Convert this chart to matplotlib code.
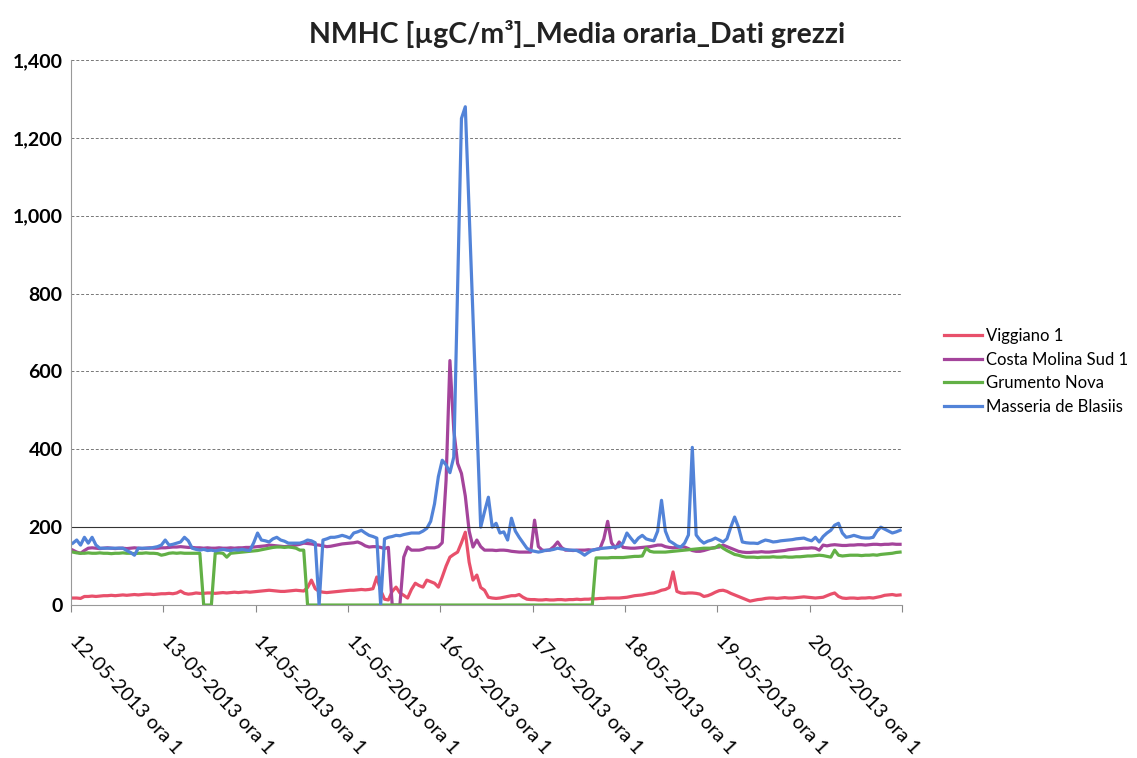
import numpy as np
import matplotlib.pyplot as plt

# hourly means, 12-05-2013 ora 1 .. 20-05-2013 ora 24
day_labels = ["12-05-2013 ora 1", "13-05-2013 ora 1", "14-05-2013 ora 1",
              "15-05-2013 ora 1", "16-05-2013 ora 1", "17-05-2013 ora 1",
              "18-05-2013 ora 1", "19-05-2013 ora 1", "20-05-2013 ora 1"]

viggiano = [
    18, 18, 17, 22, 22, 23, 22, 23, 24, 24, 25, 24, 25, 26, 25, 26, 27, 26, 27, 28, 28, 27, 28, 29,
    29, 30, 29, 31, 36, 30, 28, 29, 31, 30, 30, 31, 31, 30, 31, 32, 31, 32, 33, 32, 33, 34, 33, 34,
    35, 36, 37, 38, 37, 36, 35, 35, 36, 37, 38, 37, 36, 45, 64, 42, 35, 33, 32, 33, 34, 35, 36, 37,
    38, 38, 39, 40, 39, 40, 42, 72, 38, 15, 13, 35, 46, 31, 25, 18, 40, 56, 50, 46, 64, 60, 56, 46,
    72, 100, 123, 130, 136, 160, 187, 110, 64, 77, 45, 38, 20, 18, 17, 18, 20, 22, 24, 24, 27, 20, 15, 14,
    14, 13, 13, 14, 13, 13, 14, 14, 13, 14, 14, 15, 14, 15, 15, 16, 16, 17, 17, 18, 18, 18, 18, 19,
    20, 22, 24, 25, 26, 28, 30, 31, 34, 38, 40, 45, 85, 35, 31, 30, 31, 31, 30, 28, 22, 24, 28, 33,
    37, 38, 35, 30, 26, 22, 18, 14, 10, 12, 14, 15, 17, 18, 18, 17, 18, 19, 18, 18, 19, 20, 21, 20,
    19, 18, 19, 20, 24, 28, 31, 22, 18, 17, 18, 18, 17, 18, 18, 19, 18, 20, 22, 25, 26, 27, 25, 26,
]

costa_molina = [
    141, 136, 133, 140, 146, 147, 146, 145, 146, 147, 146, 145, 146, 146, 145, 146, 147, 146, 145, 146, 147, 146, 146, 147,
    147, 148, 149, 149, 150, 149, 148, 148, 147, 147, 146, 147, 146, 146, 147, 146, 146, 147, 146, 147, 147, 148, 148, 149,
    150, 151, 152, 154, 153, 152, 151, 150, 151, 152, 154, 156, 159, 158, 157, 155, 154, 152, 150, 151, 153, 155, 157, 158,
    159, 160, 162, 158, 152, 149, 150, 150, 148, 145, 148, 0, 0, 0, 123, 149, 141, 141, 141, 143, 147, 147, 147, 150,
    160, 320, 628, 450, 364, 338, 280, 190, 149, 167, 150, 141, 141, 141, 140, 141, 141, 140, 138, 137, 136, 136, 136, 136,
    218, 150, 141, 140, 142, 150, 162, 148, 141, 141, 140, 141, 141, 141, 142, 141, 143, 145, 170, 215, 160, 146, 162, 148,
    147, 146, 146, 147, 148, 149, 150, 152, 154, 154, 150, 148, 147, 148, 149, 149, 145, 140, 138, 138, 140, 143, 146, 148,
    149, 154, 150, 146, 142, 138, 136, 135, 135, 136, 136, 137, 136, 136, 137, 138, 139, 140, 142, 143, 144, 145, 146, 146,
    147, 146, 141, 154, 152, 154, 155, 154, 153, 153, 154, 154, 155, 155, 154, 155, 156, 156, 155, 156, 156, 157, 156, 156,
]

grumento = [
    136, 134, 133, 133, 134, 133, 133, 134, 133, 133, 132, 133, 133, 134, 133, 133, 132, 133, 133, 134, 133, 133, 132, 128,
    130, 133, 134, 133, 134, 133, 133, 133, 133, 133, 0, 0, 0, 133, 134, 133, 123, 133, 134, 135, 136, 137, 138, 139,
    140, 142, 144, 146, 148, 149, 149, 148, 149, 148, 146, 141, 141, 0, 0, 0, 0, 0, 0, 0, 0, 0, 0, 0,
    0, 0, 0, 0, 0, 0, 0, 0, 0, 0, 0, 0, 0, 0, 0, 0, 0, 0, 0, 0, 0, 0, 0, 0,
    0, 0, 0, 0, 0, 0, 0, 0, 0, 0, 0, 0, 0, 0, 0, 0, 0, 0, 0, 0, 0, 0, 0, 0,
    0, 0, 0, 0, 0, 0, 0, 0, 0, 0, 0, 0, 0, 0, 0, 0, 121, 121, 121, 121, 122, 122, 122, 122,
    123, 124, 125, 125, 126, 146, 138, 136, 136, 136, 136, 137, 138, 139, 140, 141, 142, 143, 144, 145, 146, 146, 146, 147,
    154, 146, 140, 135, 130, 128, 125, 123, 123, 123, 122, 123, 123, 123, 124, 123, 123, 124, 123, 123, 124, 124, 125, 126,
    126, 127, 128, 127, 125, 123, 141, 128, 126, 127, 128, 128, 128, 127, 128, 128, 129, 128, 130, 131, 132, 133, 135, 136,
]

masseria = [
    159, 167, 154, 174, 159, 174, 154, 146, 146, 146, 146, 146, 146, 146, 140, 135, 128, 146, 146, 146, 146, 148, 150, 154,
    167, 154, 156, 159, 162, 174, 165, 146, 143, 141, 143, 140, 141, 139, 141, 143, 141, 140, 142, 141, 143, 141, 140, 160,
    185, 167, 165, 162, 170, 174, 167, 164, 159, 159, 159, 159, 162, 167, 165, 160, 0, 167, 170, 174, 174, 176, 179, 176,
    172, 185, 188, 192, 185, 179, 176, 172, 0, 170, 174, 176, 179, 178, 181, 183, 185, 185, 185, 190, 197, 215, 260, 330,
    372, 360, 340, 380, 820, 1250, 1280, 1010, 740, 470, 200, 240, 277, 200, 210, 185, 188, 167, 223, 190, 174, 160, 146, 140,
    138, 136, 138, 141, 141, 143, 146, 144, 143, 141, 141, 140, 135, 128, 135, 141, 143, 145, 146, 147, 148, 149, 150, 160,
    185, 172, 160, 172, 179, 170, 167, 165, 190, 269, 190, 165, 159, 152, 149, 159, 180, 405, 180, 167, 159, 164, 167, 172,
    167, 162, 170, 200, 226, 200, 162, 160, 159, 159, 158, 163, 167, 165, 162, 163, 165, 166, 167, 168, 170, 171, 172, 168,
    165, 174, 162, 176, 185, 192, 205, 210, 185, 174, 176, 179, 176, 173, 172, 172, 174, 190, 200, 195, 190, 185, 188, 192,
]

series = [
    ("Viggiano 1", viggiano, "#e8506b"),
    ("Costa Molina Sud 1", costa_molina, "#a4449b"),
    ("Grumento Nova", grumento, "#62b046"),
    ("Masseria de Blasiis", masseria, "#5283d8"),
]

plt.rcParams['font.family'] = ['Lato', 'DejaVu Sans']

fig = plt.figure(figsize=(11.37, 7.58), dpi=100)
ax = fig.add_axes([0.0624, 0.2018, 0.7309, 0.719])

hours = np.arange(len(viggiano))
for name, vals, col in series:
    ax.plot(hours, vals, color=col, lw=2.3, label=name, solid_joinstyle='round')

ax.set_xlim(-0.5, len(hours) - 0.5)
ax.set_ylim(0, 1400)
ax.set_yticks(np.arange(0, 1401, 200))
ax.set_yticklabels([f"{v:,}" for v in range(0, 1401, 200)], fontweight='bold', fontsize=14)

# day labels sit a little to the right of their tick, as in Excel
ticks = np.arange(0, len(hours) + 1, 24) - 0.5
ax.set_xticks(ticks)
ax.set_xticklabels([""] * len(ticks))
for i, lab in enumerate(day_labels):
    ax.annotate(lab, xy=(ticks[i], 0), xycoords=('data', 'axes fraction'),
                xytext=(8, -27), textcoords='offset pixels', rotation=-47,
                ha='left', va='top', rotation_mode='anchor', fontsize=14)
ax.tick_params(axis='x', length=5, color='#888888')
ax.tick_params(axis='y', length=0, pad=6)

ax.grid(axis='y', color='#777777', lw=0.7, ls=(0, (3, 2)))
ax.axhline(200, color='#333333', lw=0.8)
for s in ['top', 'right']:
    ax.spines[s].set_visible(False)
for s in ['left', 'bottom']:
    ax.spines[s].set_color('#999999')
    ax.spines[s].set_linewidth(0.8)

fig.text(0.508, 0.955, "NMHC [µgC/m³]_Media oraria_Dati grezzi", ha='center', va='center',
         fontsize=20.5, fontweight='bold', color='#222222')

fig.legend(loc='center left', bbox_to_anchor=(0.817, 0.51), frameon=False,
           fontsize=12, handlelength=2.3, handletextpad=0.2, labelspacing=0.45)

fig.savefig("out.png", dpi=100)
